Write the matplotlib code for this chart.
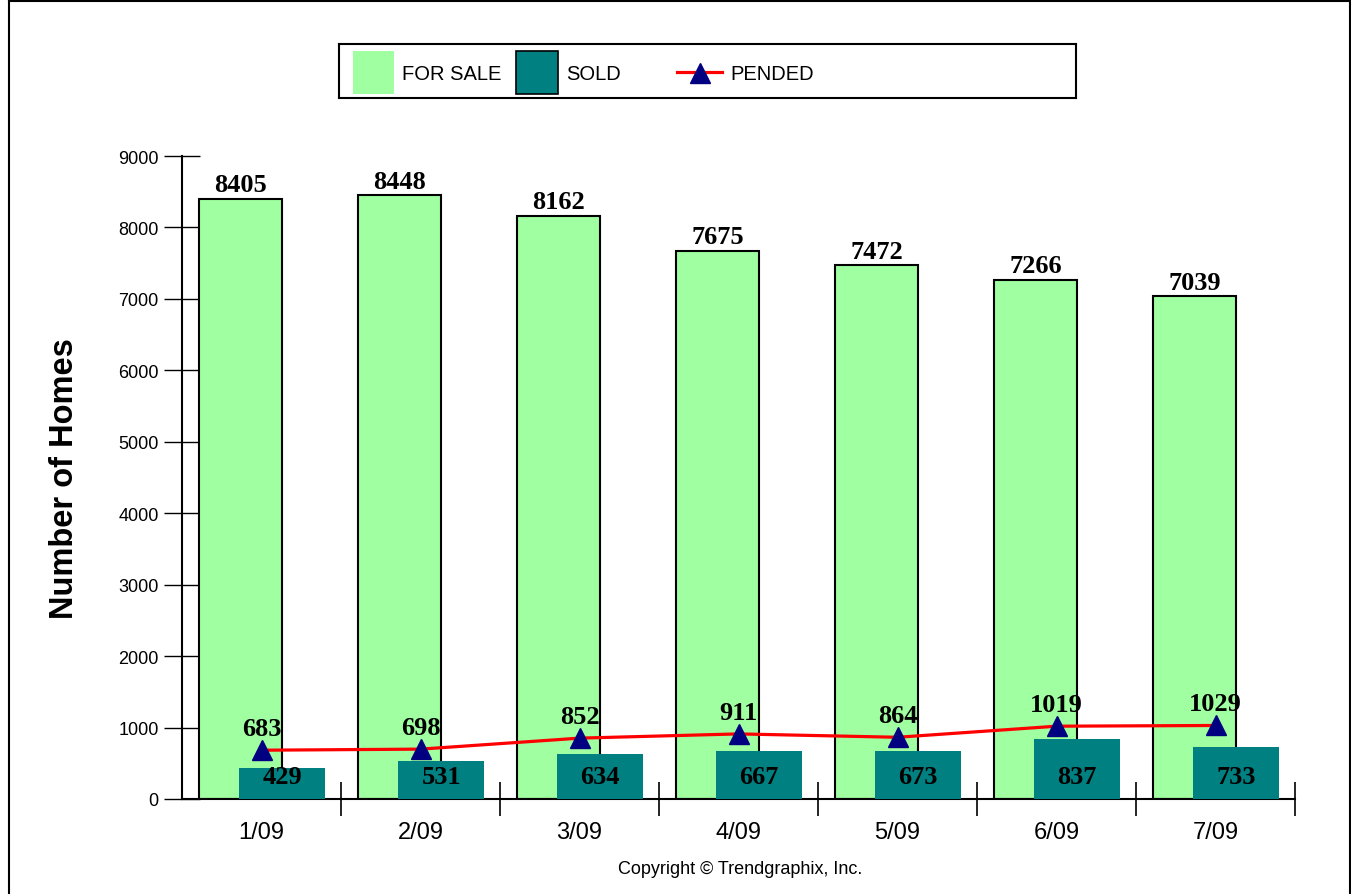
import matplotlib
matplotlib.use("Agg")
import matplotlib.pyplot as plt
from matplotlib.patches import Rectangle
from matplotlib.lines import Line2D
import numpy as np

plt.rcParams['font.family'] = ['Liberation Sans', 'DejaVu Sans']

months = ["1/09", "2/09", "3/09", "4/09", "5/09", "6/09", "7/09"]
for_sale = [8405, 8448, 8162, 7675, 7472, 7266, 7039]
sold = [429, 531, 634, 667, 673, 837, 733]
pended = [683, 698, 852, 911, 864, 1019, 1029]
y_ticks = [0, 1000, 2000, 3000, 4000, 5000, 6000, 7000, 8000, 9000]

GREEN = "#a0ffa0"
TEAL = "#008080"
NAVY = "#000080"
W, H = 1351, 895

fig = plt.figure(figsize=(W / 100, H / 100), dpi=100)
ax = fig.add_axes([182 / W, 1 - 800 / H, (1295 - 182) / W, (800 - 157) / H])

x = np.arange(len(months)) + 0.5
x_sale = x - 0.132
x_sold = x + 0.13

ax.bar(x_sale, for_sale, width=0.52, color=GREEN, edgecolor="black", linewidth=1.5, zorder=2)
ax.bar(x_sold, sold, width=0.54, color=TEAL, edgecolor="none", zorder=3)
ax.plot(x, pended, color="red", lw=2.3, zorder=4)
ax.plot(x, pended, ls="none", marker="^", ms=14, color=NAVY, zorder=5)

label_font = dict(family="Liberation Serif", weight="bold", fontsize=19)
for xi, v in zip(x_sale, for_sale):
    ax.annotate(str(v), (xi, v), xytext=(0, 5.4), textcoords="offset points",
                ha="center", va="baseline", **label_font)
for xi, v in zip(x, pended):
    ax.annotate(str(v), (xi, v), xytext=(0, 11), textcoords="offset points",
                ha="center", va="baseline", zorder=6, **label_font)
for xi, v in zip(x_sold, sold):
    ax.annotate(str(v), (xi, 0), xytext=(0, 11.5), textcoords="offset points",
                ha="center", va="baseline", zorder=6, **label_font)

ax.set_xlim(0, len(months))
ax.set_ylim(0, 9000)
ax.set_yticks(y_ticks)
ax.set_yticklabels([str(t) for t in y_ticks])
ax.tick_params(axis="y", direction="inout", length=26.5, width=1, pad=3.6, labelsize=13)

ax.set_xticks(np.arange(1, len(months) + 1))
ax.set_xticklabels([])
ax.tick_params(axis="x", which="major", direction="inout", length=25, width=1.2)
ax.set_xticks(x, minor=True)
ax.set_xticklabels(months, minor=True)
ax.tick_params(axis="x", which="minor", length=0, pad=16, labelsize=17)

for s in ["top", "right"]:
    ax.spines[s].set_visible(False)
for s in ["left", "bottom"]:
    ax.spines[s].set_linewidth(1.5)

fig.text(65 / W, 1 - 479 / H, "Number of Homes", rotation=90, ha="center", va="center",
         fontsize=23.5, weight="bold")
fig.text(740 / W, 1 - 870 / H, "Copyright \u00a9 Trendgraphix, Inc.", ha="center", va="center", fontsize=13)

# legend box drawn in pixel coords
lax = fig.add_axes([339 / W, 1 - 99 / H, (1076 - 339) / W, (99 - 45) / H])
lax.set_xlim(339, 1076)
lax.set_ylim(99, 45)
lax.set_xticks([])
lax.set_yticks([])
for s in lax.spines.values():
    s.set_linewidth(1.5)
lax.add_patch(Rectangle((353, 52), 41, 43, facecolor=GREEN, edgecolor="none"))
lax.add_patch(Rectangle((516, 52), 42, 43, facecolor=TEAL, edgecolor="black", linewidth=1.2))
lax.plot([677, 722], [73, 73], color="red", lw=2.3)
lax.plot([700], [74], ls="none", marker="^", ms=14, color=NAVY)
lax.text(402, 74, "FOR SALE", va="center", ha="left", fontsize=14.5)
lax.text(566, 74, "SOLD", va="center", ha="left", fontsize=14.5)
lax.text(730, 74, "PENDED", va="center", ha="left", fontsize=14.5)

# outer frame
fig.add_artist(Line2D([8.5 / W, 8.5 / W], [0, 1 - 1.5 / H], color="black", lw=1.5, transform=fig.transFigure))
fig.add_artist(Line2D([8.5 / W, 1349.5 / W], [1 - 1.5 / H, 1 - 1.5 / H], color="black", lw=1.5, transform=fig.transFigure))
fig.add_artist(Line2D([1349.5 / W, 1349.5 / W], [0, 1 - 1.5 / H], color="black", lw=1.5, transform=fig.transFigure))

fig.savefig("out.png", dpi=100)
